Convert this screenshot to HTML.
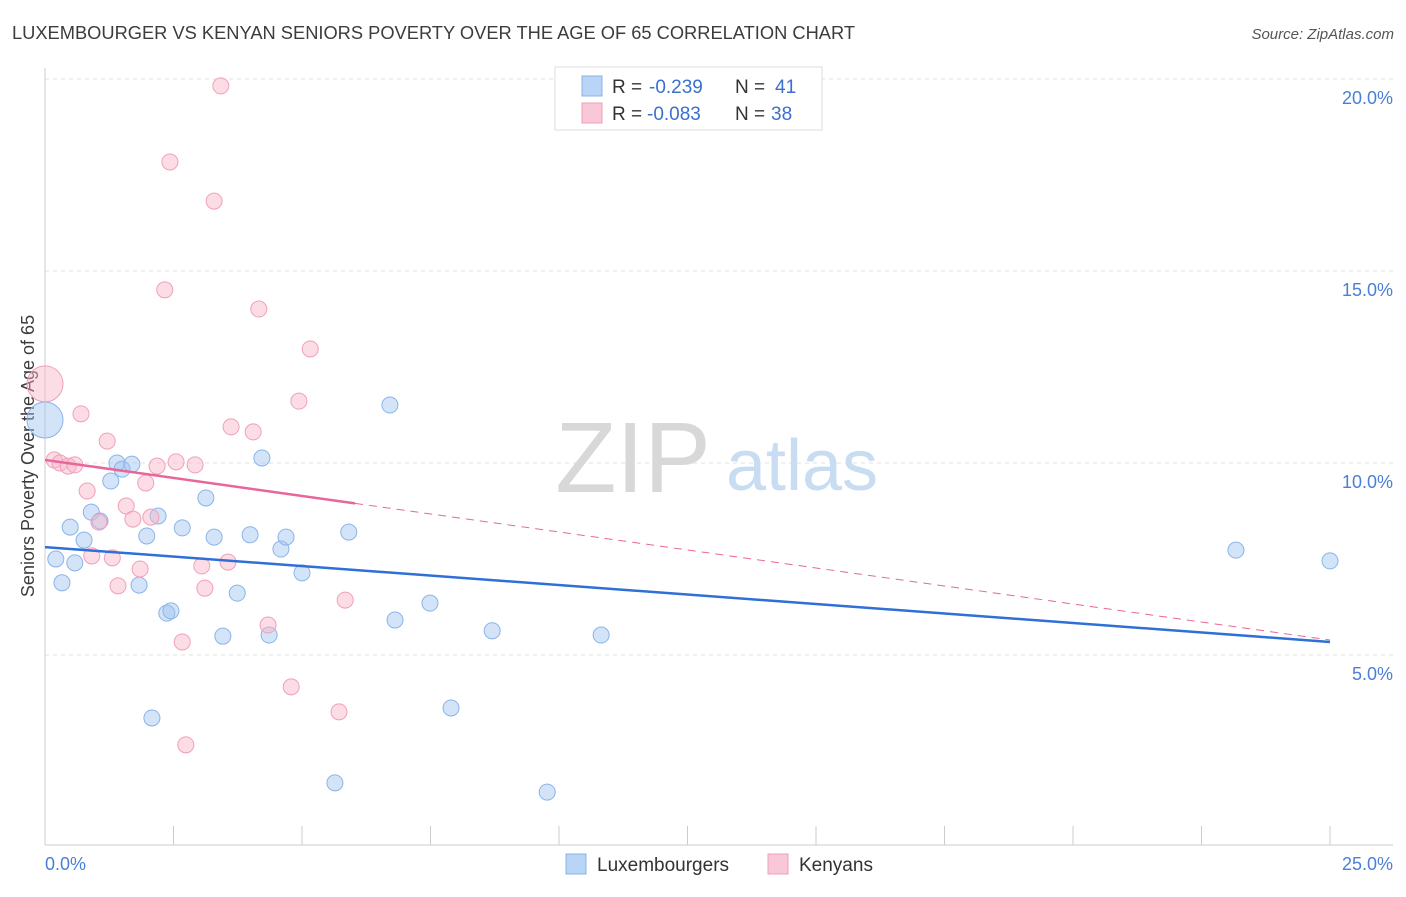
<!DOCTYPE html>
<html><head><meta charset="utf-8"><style>
body{margin:0;background:#fff;font-family:"Liberation Sans",sans-serif;}
svg text{font-family:"Liberation Sans",sans-serif;}
</style></head><body>
<svg id="chart" width="1406" height="892" viewBox="0 0 1406 892" xmlns="http://www.w3.org/2000/svg">
<text x="12" y="39" font-size="18" fill="#3c3c3c" textLength="843" lengthAdjust="spacingAndGlyphs">LUXEMBOURGER VS KENYAN SENIORS POVERTY OVER THE AGE OF 65 CORRELATION CHART</text>
<text x="1394" y="39" font-size="15" fill="#555" text-anchor="end" font-style="italic">Source: ZipAtlas.com</text>
<g id="grid"></g>
<g>
<text x="633" y="492" font-size="100" fill="#d8d8d8" text-anchor="middle" font-family="Liberation Serif">ZIP</text>
<text x="802" y="490" font-size="72" fill="#c8dcf2" text-anchor="middle">atlas</text>
</g>
<line x1="45" y1="68" x2="45" y2="845" stroke="#ccc"/>
<line x1="45" y1="845" x2="1393" y2="845" stroke="#ccc"/>
<text transform="translate(34,456) rotate(-90)" font-size="18" fill="#3c3c3c" text-anchor="middle">Seniors Poverty Over the Age of 65</text>
<text x="45" y="870" font-size="18" fill="#4a7fd6">0.0%</text>
<text x="1393" y="870" font-size="18" fill="#4a7fd6" text-anchor="end">25.0%</text>
<g id="marks"></g>
<g>
<rect x="555" y="67" width="267" height="63" fill="#fff" stroke="#ddd"/>
<rect x="582" y="76" width="20" height="20" fill="#b8d4f6" stroke="#8ab4e8"/>
<rect x="582" y="103" width="20" height="20" fill="#f9c8d8" stroke="#f0a0b8"/>
<text x="612" y="93" font-size="19" fill="#333">R =</text>
<text x="649" y="93" font-size="19" fill="#3a6fd0">-0.239</text>
<text x="735" y="93" font-size="19" fill="#333">N =</text>
<text x="775" y="93" font-size="19" fill="#3a6fd0">41</text>
<text x="612" y="120" font-size="19" fill="#333">R =</text>
<text x="647" y="120" font-size="19" fill="#3a6fd0">-0.083</text>
<text x="735" y="120" font-size="19" fill="#333">N =</text>
<text x="771" y="120" font-size="19" fill="#3a6fd0">38</text>
</g>
<g>
<rect x="566" y="854" width="20" height="20" fill="#b8d4f6" stroke="#8ab4e8"/>
<text x="597" y="871" font-size="19" fill="#333">Luxembourgers</text>
<rect x="768" y="854" width="20" height="20" fill="#f9c8d8" stroke="#f0a0b8"/>
<text x="799" y="871" font-size="19" fill="#333">Kenyans</text>
</g>
</svg>
<script>
const yTicks=[5,10,15,20];
const yTickLabels=["5.0%","10.0%","15.0%","20.0%"];
const xTicks=[0,2.5,5,7.5,10,12.5,15,17.5,20,22.5,25];
const luxX=[0,0.21,0.33,0.49,0.58,0.76,0.90,1.07,1.28,1.40,1.50,1.69,1.83,1.98,2.08,2.20,2.37,2.45,2.67,3.13,3.29,3.46,3.74,3.99,4.22,4.36,4.59,4.69,5.00,5.64,5.91,6.71,6.81,7.49,7.90,8.70,9.77,10.82,23.17,25.0];
const luxY=[11.12,7.50,6.88,8.33,7.40,7.99,8.72,8.49,9.53,10.0,9.84,9.97,6.82,8.10,3.36,8.62,6.09,6.15,8.31,9.09,8.07,5.49,6.61,8.13,10.13,5.52,7.76,8.07,7.14,1.67,8.20,11.51,5.91,6.35,3.62,5.63,1.43,5.52,7.73,7.45];
const kenX=[0,0.18,0.29,0.45,0.58,0.70,0.82,0.91,1.05,1.21,1.31,1.42,1.58,1.71,1.85,1.96,2.06,2.18,2.33,2.43,2.55,2.67,2.74,2.92,3.05,3.11,3.29,3.42,3.56,3.62,4.05,4.16,4.34,4.79,4.94,5.16,5.72,5.84];
const kenY=[12.06,10.08,10.0,9.92,9.95,11.28,9.27,7.58,8.46,10.57,7.53,6.80,8.88,8.54,7.24,9.48,8.59,9.92,14.51,17.84,10.03,5.34,2.66,9.95,7.32,6.74,16.82,19.82,7.42,10.94,10.81,14.01,5.78,4.17,11.61,12.97,3.52,6.43];
const luxTrend=[7.81,5.34];
const kenTrend=[10.08,5.39];
const kenSolidEnd=6.03;
const NS="http://www.w3.org/2000/svg";
const xs=v=>45+v*51.4;
const ys=v=>847-v*38.4;
function mk(tag,attrs,parent){const e=document.createElementNS(NS,tag);for(const k in attrs)e.setAttribute(k,attrs[k]);parent.appendChild(e);return e;}
const grid=document.getElementById('grid');
const marks=document.getElementById('marks');
yTicks.forEach((t,i)=>{
 const l=mk('line',{x1:45,x2:1393,y1:ys(t),y2:ys(t),stroke:'#e2e2e2','stroke-dasharray':'4,4'},grid);
 
 
 const tx=mk('text',{x:1393,y:ys(t)+25,'font-size':18,fill:'#4a7fd6','text-anchor':'end'},grid);
 tx.textContent=yTickLabels[i];
 
 
});
xTicks.forEach(t=>{
 const l=mk('line',{x1:xs(t),x2:xs(t),y1:826,y2:845,stroke:'#ccc'},grid);
 
 
});
luxX.forEach((x,i)=>{
 const c=mk('circle',{cx:xs(x),cy:ys(luxY[i]),r:i===0?18:8,fill:'rgba(160,196,240,0.45)',stroke:'#8ab4e8','stroke-width':1},marks);
 
 
});
kenX.forEach((x,i)=>{
 const c=mk('circle',{cx:xs(x),cy:ys(kenY[i]),r:i===0?18:8,fill:'rgba(248,180,200,0.45)',stroke:'#f0a0b8','stroke-width':1},marks);
 
 
});
const lt=mk('line',{x1:xs(0),y1:ys(luxTrend[0]),x2:xs(25),y2:ys(luxTrend[1]),stroke:'#2f6fd6','stroke-width':2.5},marks);


const kAt=v=>kenTrend[0]+(kenTrend[1]-kenTrend[0])*v/25;
const kd=mk('line',{x1:xs(kenSolidEnd),y1:ys(kAt(kenSolidEnd)),x2:xs(25),y2:ys(kenTrend[1]),stroke:'#e8669a','stroke-width':1,'stroke-dasharray':'8,6'},marks);


const ks=mk('line',{x1:xs(0),y1:ys(kenTrend[0]),x2:xs(kenSolidEnd),y2:ys(kAt(kenSolidEnd)),stroke:'#e8669a','stroke-width':2.5},marks);


</script>
</body></html>
